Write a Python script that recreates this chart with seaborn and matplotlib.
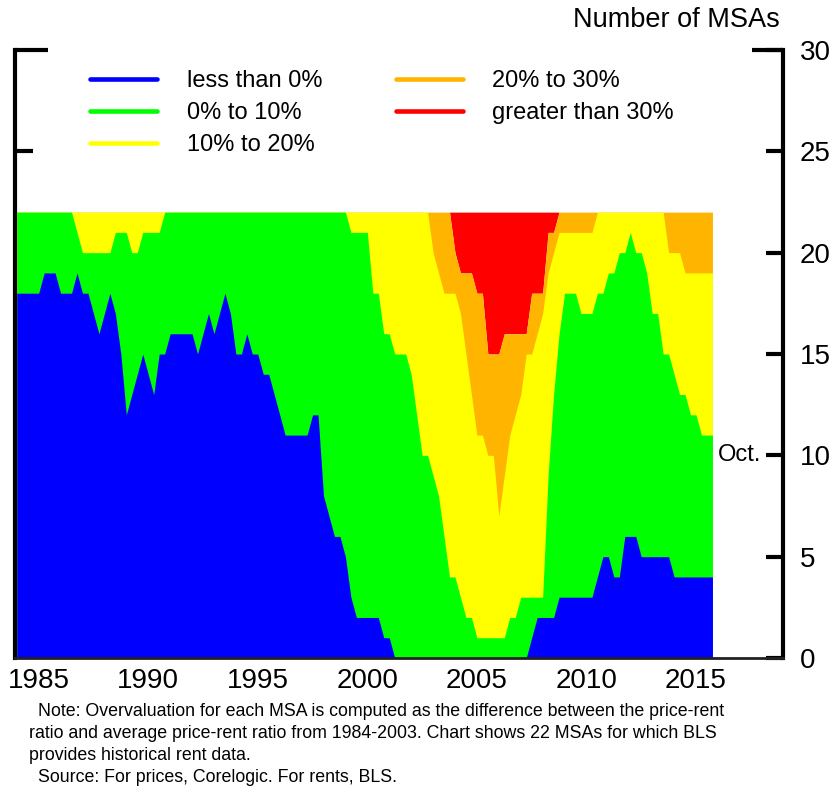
import matplotlib
matplotlib.use("Agg")
import matplotlib.pyplot as plt
import numpy as np
import pandas as pd
import seaborn as sns
from matplotlib.lines import Line2D

# Quarterly readings, Jan 1984 .. Oct 2015
dates = pd.date_range("1984-01-01", "2015-10-01", freq="QS")
years = dates.year + (dates.month - 1) / 12.0

n_msas = 22

# number of MSAs with overvaluation below each threshold
n_below_0 = [
    18, 18, 18, 18,  18, 19, 19, 19,  18, 18, 18, 19,  18, 18, 17, 16,
    17, 18, 17, 15,  12, 13, 14, 15,  14, 13, 15, 15,  16, 16, 16, 16,
    16, 15, 16, 17,  16, 17, 18, 17,  15, 15, 16, 15,  15, 14, 14, 13,
    12, 11, 11, 11,  11, 11, 12, 12,   8,  7,  6,  6,   5,  3,  2,  2,
     2,  2,  2,  1,   1,  0,  0,  0,   0,  0,  0,  0,   0,  0,  0,  0,
     0,  0,  0,  0,   0,  0,  0,  0,   0,  0,  0,  0,   0,  0,  1,  2,
     2,  2,  2,  3,   3,  3,  3,  3,   3,  3,  4,  5,   5,  4,  4,  6,
     6,  6,  5,  5,   5,  5,  5,  5,   4,  4,  4,  4,   4,  4,  4,  4,
]
n_below_10 = [
    22, 22, 22, 22,  22, 22, 22, 22,  22, 22, 22, 21,  20, 20, 20, 20,
    20, 20, 21, 21,  21, 20, 20, 21,  21, 21, 21, 22,  22, 22, 22, 22,
    22, 22, 22, 22,  22, 22, 22, 22,  22, 22, 22, 22,  22, 22, 22, 22,
    22, 22, 22, 22,  22, 22, 22, 22,  22, 22, 22, 22,  22, 21, 21, 21,
    21, 18, 18, 16,  16, 15, 15, 15,  14, 12, 10, 10,   9,  8,  6,  4,
     4,  3,  2,  2,   1,  1,  1,  1,   1,  1,  2,  2,   3,  3,  3,  3,
     3,  9, 13, 16,  18, 18, 18, 17,  17, 17, 18, 18,  19, 19, 20, 20,
    21, 20, 20, 19,  17, 17, 15, 15,  14, 13, 13, 12,  12, 11, 11, 11,
]
n_below_20 = [
    22, 22, 22, 22,  22, 22, 22, 22,  22, 22, 22, 22,  22, 22, 22, 22,
    22, 22, 22, 22,  22, 22, 22, 22,  22, 22, 22, 22,  22, 22, 22, 22,
    22, 22, 22, 22,  22, 22, 22, 22,  22, 22, 22, 22,  22, 22, 22, 22,
    22, 22, 22, 22,  22, 22, 22, 22,  22, 22, 22, 22,  22, 22, 22, 22,
    22, 22, 22, 22,  22, 22, 22, 22,  22, 22, 22, 22,  20, 19, 18, 18,
    18, 17, 15, 13,  11, 11, 10, 10,   7,  9, 11, 12,  13, 15, 15, 16,
    17, 19, 20, 21,  21, 21, 21, 21,  21, 21, 22, 22,  22, 22, 22, 22,
    22, 22, 22, 22,  22, 22, 22, 20,  20, 20, 19, 19,  19, 19, 19, 19,
]
n_below_30 = [
    22, 22, 22, 22,  22, 22, 22, 22,  22, 22, 22, 22,  22, 22, 22, 22,
    22, 22, 22, 22,  22, 22, 22, 22,  22, 22, 22, 22,  22, 22, 22, 22,
    22, 22, 22, 22,  22, 22, 22, 22,  22, 22, 22, 22,  22, 22, 22, 22,
    22, 22, 22, 22,  22, 22, 22, 22,  22, 22, 22, 22,  22, 22, 22, 22,
    22, 22, 22, 22,  22, 22, 22, 22,  22, 22, 22, 22,  22, 22, 22, 22,
    20, 19, 19, 19,  18, 18, 15, 15,  15, 16, 16, 16,  16, 16, 18, 18,
    18, 21, 21, 22,  22, 22, 22, 22,  22, 22, 22, 22,  22, 22, 22, 22,
    22, 22, 22, 22,  22, 22, 22, 22,  22, 22, 22, 22,  22, 22, 22, 22,
]

labels = ["less than 0%", "0% to 10%", "10% to 20%", "20% to 30%", "greater than 30%"]
colors = ["#0000ff", "#00ff00", "#ffff00", "#ffb400", "#ff0000"]
year_ticks = [1985, 1990, 1995, 2000, 2005, 2010, 2015]

total = np.full(len(years), n_msas)
# (bottom, top) of each band; lower bands are painted over from zero so no seams show
bands = [(0, n_below_0), (0, n_below_10), (0, n_below_20), (0, n_below_30),
         (n_below_30, total)]

sns.set_style("ticks")
plt.rcParams["font.family"] = ["Liberation Sans", "DejaVu Sans"]
plt.rcParams.update({"text.color": "black", "xtick.color": "black",
                     "ytick.color": "black", "axes.labelcolor": "black"})

fig = plt.figure(figsize=(8.39, 7.89), dpi=100)
ax = fig.add_axes([15 / 839, 1 - 658 / 789, 768 / 839, 608 / 789])

for (lo, hi), c in reversed(list(zip(bands, colors))):
    ax.fill_between(years, lo, hi, color=c, linewidth=0, antialiased=False)

ax.set_xlim(1983.92, 2018.97)
ax.set_ylim(0, 30)
ax.set_xticks(year_ticks)
ax.set_yticks(range(0, 31, 5))

ax.tick_params(axis="x", length=0, pad=7, labelsize=20)
ax.tick_params(axis="y", left=False, right=True, labelleft=False, labelright=True,
               direction="in", length=12, width=3, pad=12, labelsize=20)

ax.spines["top"].set_visible(False)
for side in ["left", "right"]:
    ax.spines[side].set_linewidth(3)
    ax.spines[side].set_color("black")
ax.spines["bottom"].set_linewidth(2)
ax.spines["bottom"].set_color("#222222")

# bracket ticks on the left, longer tick at 30 on both sides
ytr = ax.get_yaxis_transform()
for y, frac in [(30, 0.043), (25, 0.023)]:
    ax.plot([0, frac], [y, y], transform=ytr, color="black", lw=3,
            solid_capstyle="butt", clip_on=False)
ax.plot([1 - 0.040, 1], [30, 30], transform=ytr, color="black", lw=3,
        solid_capstyle="butt", clip_on=False)

handles = [Line2D([0], [0], color=c, lw=3.3) for c in colors]
ax.legend(handles, labels, ncol=2, loc="upper left",
          bbox_to_anchor=(90 / 839, 1 - 70 / 789), bbox_transform=fig.transFigure,
          frameon=False, fontsize=17, handlelength=2.85, handletextpad=1.25,
          columnspacing=3.1, borderpad=0, borderaxespad=0, labelspacing=0.43)

ax.text(2016.0, 10, "Oct.", ha="left", va="center", fontsize=17)
fig.text(780 / 839, 1 - 20 / 789, "Number of MSAs", ha="right", va="center",
         fontsize=19.5)

note_lines = [
    (38, 712, "Note: Overvaluation for each MSA is computed as the difference between the price-rent"),
    (29, 734, "ratio and average price-rent ratio from 1984-2003. Chart shows 22 MSAs for which BLS"),
    (29, 756, "provides historical rent data."),
    (38, 778, "Source: For prices, Corelogic. For rents, BLS."),
]
for x, y, s in note_lines:
    fig.text(x / 839, 1 - y / 789, s, ha="left", va="center", fontsize=12.8)

fig.savefig("out.png", dpi=100)
